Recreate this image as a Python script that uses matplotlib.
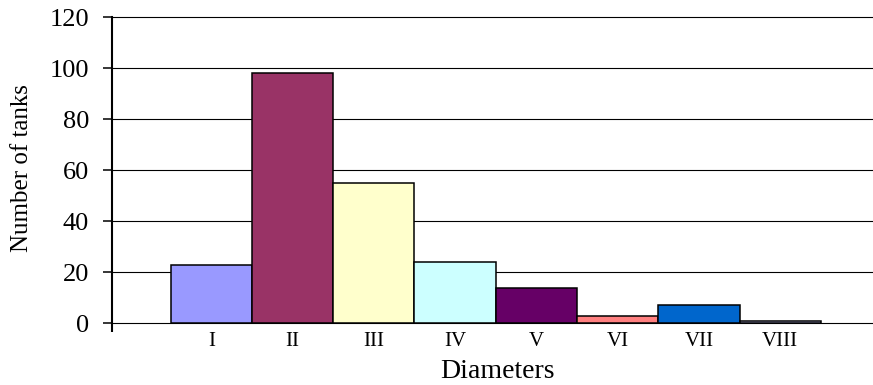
import matplotlib.pyplot as plt
import numpy as np

# data
categories = ["I", "II", "III", "IV", "V", "VI", "VII", "VIII"]
tanks = [23, 98, 55, 24, 14, 3, 7, 1]
bar_colors = ["#9999FF", "#993366", "#FFFFCC", "#CCFFFF",
              "#660066", "#FF8080", "#0066CC", "#CCCCFF"]
y_ticks = [0, 20, 40, 60, 80, 100, 120]

plt.rcParams['font.family'] = ['Liberation Serif', 'DejaVu Serif']

W, H = 873, 385
fig = plt.figure(figsize=(W / 100, H / 100), dpi=100)
ax = fig.add_axes([112 / W, 1 - 323.3 / H, 760 / W, 306.3 / H])

x = np.arange(len(categories))
ax.bar(x, tanks, width=1.0, color=bar_colors, edgecolor="black",
       linewidth=1.1, zorder=3)

ax.set_xlim(-1.222, 8.13)
ax.set_ylim(0, 120)
ax.set_yticks(y_ticks)
ax.set_yticklabels([str(v) for v in y_ticks], fontsize=19)
ax.tick_params(axis="y", direction="out", length=6.5, width=1.1, pad=10)

ax.set_xticks(x)
ax.set_xticklabels(categories, fontsize=15)
ax.tick_params(axis="x", length=0, pad=6)
# little tick under the y axis, like the original
ax.set_xticks([-1.222], minor=True)
ax.tick_params(axis="x", which="minor", direction="out", length=6.5, width=1.5)

for v in y_ticks:
    ax.axhline(v, color="black", linewidth=0.8, zorder=1, clip_on=False)

for side in ["top", "right", "bottom"]:
    ax.spines[side].set_visible(False)
ax.spines["left"].set_linewidth(1.5)

fig.text(22 / W, 1 - 168 / H, "Number of tanks", rotation=90,
         ha="center", va="center", fontsize=18)
fig.text(497.5 / W, 1 - 378 / H, "Diameters", ha="center",
         va="baseline", fontsize=20)

fig.savefig("out.png", dpi=100)
